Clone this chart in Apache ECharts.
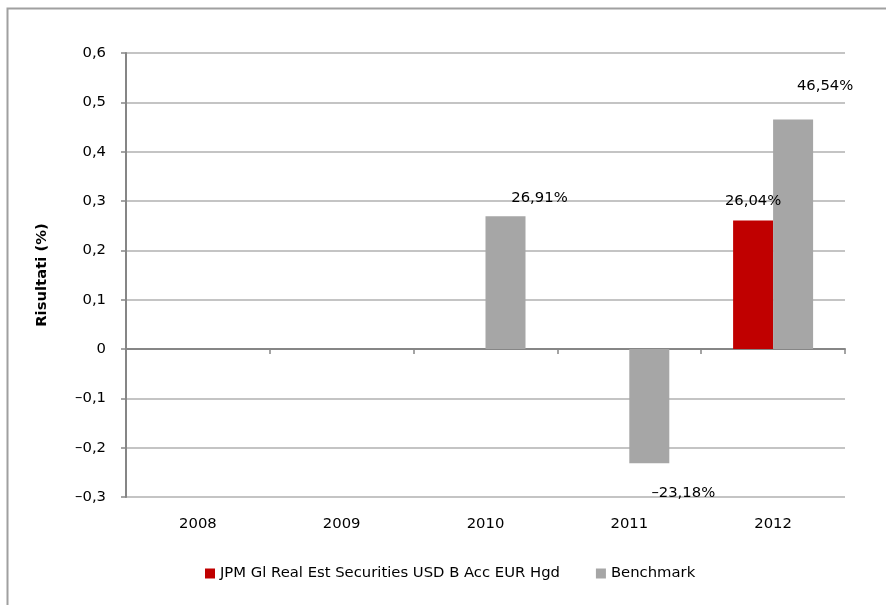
<!DOCTYPE html>
<html><head><meta charset="utf-8">
<script src="https://cdn.jsdelivr.net/npm/echarts@6/dist/echarts.min.js"></script>
<style>html,body{margin:0;padding:0;background:#fff}#c{width:886px;height:605px}</style>
</head><body><div id="c"></div>
<script>
const categories = ['2008', '2009', '2010', '2011', '2012'];
const fundName = 'JPM Gl Real Est Securities USD B Acc EUR Hgd';
const benchName = 'Benchmark';
const fundValues = [null, null, null, null, 0.2604];
const benchValues = [null, null, 0.2691, -0.2318, 0.4654];
const yTicks = { min: -0.3, max: 0.6, interval: 0.1 };

const FONT = '"DejaVu Sans", Verdana, sans-serif';
const FS = 14.8;
function pct(v) {
  const s = (Math.abs(v) * 100).toFixed(2).replace('.', ',') + '%';
  return (v < 0 ? '\u2013' : '') + s;
}
const benchLabelOffsets = { 2: [34, -6], 3: [34, 17], 4: [32, -21] };
const fundLabelOffsets = { 4: [0, -7] };
function buildData(vals, offsets) {
  return vals.map((v, i) => {
    if (v == null) return null;
    return {
      value: v,
      label: {
        show: true,
        position: v < 0 ? 'bottom' : 'top',
        offset: offsets[i] || [0, 0],
        formatter: p => pct(p.value),
        color: '#000', fontFamily: FONT, fontSize: FS
      }
    };
  });
}

const chart = echarts.init(document.getElementById('c'));
chart.setOption({
  animation: false,
  textStyle: { fontFamily: FONT },
  graphic: [{
    type: 'rect', left: 5, top: 6, shape: { width: 900, height: 700 },
    style: { fill: 'none', stroke: '#a0a0a0', lineWidth: 2 }, silent: true
  }],
  grid: { left: 126, right: 41, top: 53, bottom: 108, containLabel: false },
  legend: {
    bottom: 19, left: 200, icon: 'rect', itemWidth: 10, itemHeight: 10, itemGap: 36,
    textStyle: { fontFamily: FONT, fontSize: FS, color: '#000' },
    data: [fundName, benchName]
  },
  xAxis: [{
    type: 'category', data: categories, position: 'bottom',
    axisLine: { onZero: true, lineStyle: { color: '#868686', width: 2 } },
    axisTick: { show: true, interval: 0, length: 5, lineStyle: { color: '#868686', width: 1.5 } },
    axisLabel: { show: false }, splitLine: { show: false }
  }, {
    type: 'category', data: categories, position: 'bottom',
    axisLine: { show: false, onZero: false }, axisTick: { show: false },
    axisLabel: { show: true, margin: 20, fontFamily: FONT, fontSize: FS, color: '#000' }
  }],
  yAxis: {
    type: 'value', min: yTicks.min, max: yTicks.max, interval: yTicks.interval,
    name: 'Risultati (%)', nameLocation: 'middle', nameGap: 76,
    nameTextStyle: { fontFamily: FONT, fontSize: FS, fontWeight: 'bold', color: '#000' },
    axisLine: { show: true, lineStyle: { color: '#868686', width: 2 } },
    axisTick: { show: true, length: 5, lineStyle: { color: '#868686', width: 1.5 } },
    axisLabel: {
      margin: 20, fontFamily: FONT, fontSize: FS, color: '#000',
      formatter: v => { const r = Math.round(v * 10) / 10; if (r === 0) return '0'; return (r < 0 ? '\u2013' : '') + Math.abs(r).toFixed(1).replace('.', ','); }
    },
    splitLine: { show: true, lineStyle: { color: '#c4c4c4', width: 2 } }
  },
  series: [{
    name: fundName, type: 'bar', xAxisIndex: 0, barWidth: 40, barGap: '0%',
    itemStyle: { color: '#c00000' }, data: buildData(fundValues, fundLabelOffsets)
  }, {
    name: benchName, type: 'bar', xAxisIndex: 0, barWidth: 40, barGap: '0%',
    itemStyle: { color: '#a6a6a6' }, data: buildData(benchValues, benchLabelOffsets)
  }]
});
</script></body></html>
